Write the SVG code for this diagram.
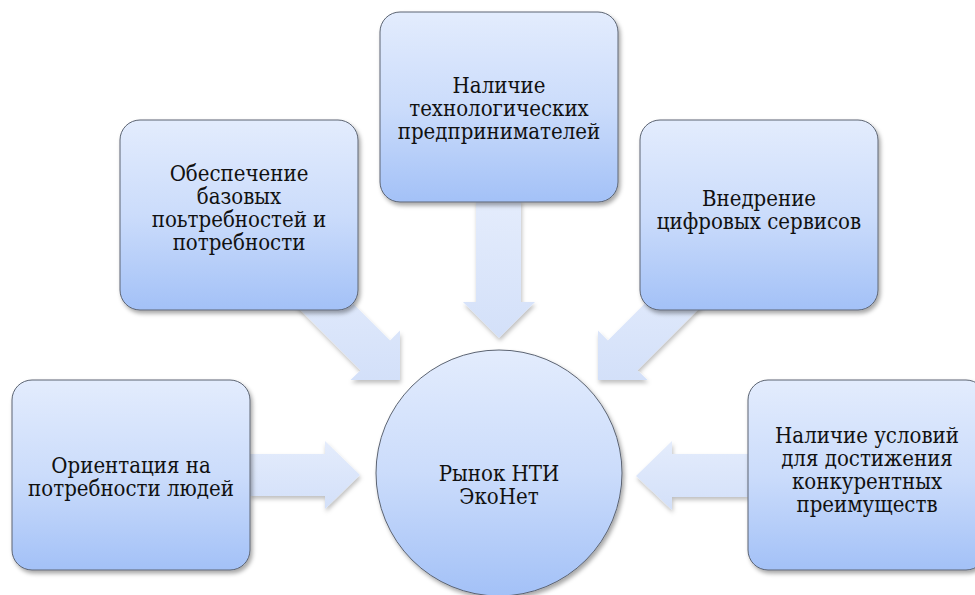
<svg xmlns="http://www.w3.org/2000/svg" width="975" height="595" viewBox="0 0 975 595">
<defs>
<linearGradient id="nodeGrad" x1="0" y1="0" x2="0" y2="1">
<stop offset="0" stop-color="#e3ecfd"/>
<stop offset="0.5" stop-color="#cbdcfb"/>
<stop offset="1" stop-color="#a3c1f7"/>
</linearGradient>
<linearGradient id="arrowGrad" x1="0" y1="0" x2="0" y2="1">
<stop offset="0" stop-color="#e4ecfc"/>
<stop offset="1" stop-color="#d3e0f9"/>
</linearGradient>
<filter id="shadow" x="-10%" y="-10%" width="125%" height="125%">
<feDropShadow dx="2" dy="3" stdDeviation="2" flood-color="#000" flood-opacity="0.35"/>
</filter>
<filter id="ashadow" x="-10%" y="-10%" width="125%" height="125%">
<feDropShadow dx="1" dy="3" stdDeviation="2" flood-color="#000" flood-opacity="0.25"/>
</filter>
</defs>
<style>
.node { fill: url(#nodeGrad); stroke: #5c6472; stroke-width: 1; filter: url(#shadow); }
.arrow { fill: url(#arrowGrad); stroke: none; filter: url(#ashadow); }
.label { font-family: 'DejaVu Serif Condensed', 'DejaVu Serif', serif; font-stretch: condensed; font-size: 22px; fill: #111; text-anchor: middle; }
</style>
<g id="connectors">
<path class="arrow" d="M250,454 L325,454 L325,441 L360,475 L325,509 L325,496 L250,496 Z"/>
<path class="arrow" d="M748,454 L672,454 L672,441 L636,476 L672,510 L672,497 L748,497 Z"/>
<path class="arrow" d="M476,200 L521,200 L521,302 L535,302 L499,338 L463,302 L476,302 Z"/>
<path class="arrow" d="M312.3,262.7 L390.1,340.5 L400,330.6 L400,380 L350.5,380 L360.5,370.2 L282.7,292.3 Z"/>
<path class="arrow" d="M685.7,262.7 L607.9,340.5 L598,330.6 L598,380 L647.5,380 L637.5,370.2 L715.3,292.3 Z"/>
</g>
<g id="node-top-left">
<rect class="node" x="120" y="120" width="238" height="190" rx="20"/>
<text class="label" x="239" y="181">Обеспечение</text>
<text class="label" x="239" y="204">базовых</text>
<text class="label" x="239" y="227">поьтребностей и</text>
<text class="label" x="239" y="250">потребности</text>
</g>
<g id="node-top-center">
<rect class="node" x="380" y="12" width="238" height="190" rx="20"/>
<text class="label" x="499" y="93">Наличие</text>
<text class="label" x="499" y="116">технологических</text>
<text class="label" x="499" y="139">предпринимателей</text>
</g>
<g id="node-top-right">
<rect class="node" x="640" y="120" width="238" height="190" rx="20"/>
<text class="label" x="759" y="206">Внедрение</text>
<text class="label" x="759" y="229">цифровых сервисов</text>
</g>
<g id="node-left">
<rect class="node" x="12" y="380" width="238" height="190" rx="20"/>
<text class="label" x="131" y="473">Ориентация на</text>
<text class="label" x="131" y="496">потребности людей</text>
</g>
<g id="node-right">
<rect class="node" x="748" y="380" width="238" height="190" rx="20"/>
<text class="label" x="867" y="443">Наличие условий</text>
<text class="label" x="867" y="466">для достижения</text>
<text class="label" x="867" y="489">конкурентных</text>
<text class="label" x="867" y="512">преимуществ</text>
</g>
<g id="node-center">
<circle class="node" cx="499" cy="473" r="123"/>
<text class="label" x="499" y="481">Рынок НТИ</text>
<text class="label" x="499" y="504">ЭкоНет</text>
</g>
</svg>
